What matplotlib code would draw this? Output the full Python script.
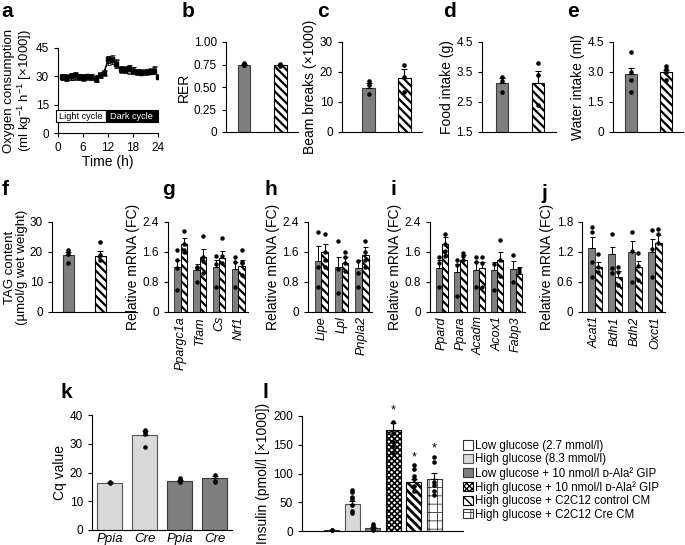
import numpy as np
import matplotlib
matplotlib.use('Agg')
import matplotlib.pyplot as plt
from matplotlib.patches import Patch, Rectangle

plt.rcParams['font.family'] = ['Liberation Sans', 'DejaVu Sans']
plt.rcParams['mathtext.fontset'] = 'custom'
plt.rcParams['mathtext.rm'] = 'Liberation Sans'
plt.rcParams['mathtext.it'] = 'Liberation Sans:italic'
plt.rcParams['axes.linewidth'] = 0.8
plt.rcParams['xtick.major.width'] = 0.8
plt.rcParams['ytick.major.width'] = 0.8
plt.rcParams['xtick.major.size'] = 3
plt.rcParams['ytick.major.size'] = 3
plt.rcParams['xtick.labelsize'] = 8.5
plt.rcParams['ytick.labelsize'] = 8.5
plt.rcParams['axes.labelsize'] = 10
plt.rcParams['axes.labelpad'] = 2
plt.rcParams['hatch.linewidth'] = 1.6

# ---------------- data ----------------
# a: oxygen consumption over 24 h
time_h = [1, 2, 3, 4, 5, 6, 7, 8, 9, 10, 11, 12, 13, 14, 15, 16, 17, 18, 19, 20, 21, 22, 23, 24]
o2_ctrl = [29.5, 29.0, 30.0, 30.5, 29.5, 29.5, 30.0, 29.5, 28.5, 30.5, 32.0, 39.0, 38.5, 36.5,
           34.0, 33.5, 34.5, 33.0, 32.5, 32.0, 32.5, 32.5, 33.0, 29.5]
o2_ctrl_err = [1.5, 1.5, 2.0, 2.0, 1.5, 1.5, 1.5, 1.5, 1.5, 1.5, 1.5, 2.0, 2.0, 2.0,
               1.5, 1.5, 1.5, 2.0, 1.5, 1.5, 1.5, 1.5, 2.0, 1.0]
o2_cre = [30.0, 29.5, 29.5, 30.0, 30.0, 29.0, 29.5, 30.0, 29.0, 31.0, 31.5, 38.0, 39.5, 37.0,
          33.5, 34.0, 33.0, 33.5, 32.0, 32.5, 32.0, 33.0, 33.5, 30.0]
o2_cre_err = [1.5, 1.5, 1.5, 2.0, 1.5, 1.5, 1.5, 1.5, 1.5, 1.5, 1.5, 2.0, 2.0, 2.0,
              1.5, 1.5, 1.5, 1.5, 1.5, 1.5, 1.5, 1.5, 2.0, 1.0]

# b-f: two-group bars (control, knockout)
rer_mean = [0.75, 0.74]
rer_err = [0.01, 0.01]
rer_dots = [[0.77, 0.76, 0.75, 0.74], [0.76, 0.75, 0.74, 0.73]]

beam_mean = [14.8, 18.0]
beam_err = [1.5, 3.0]
beam_dots = [[17.0, 15.8, 12.8], [22.5, 18.5, 13.2]]

food_mean = [3.15, 3.15]
food_err = [0.15, 0.4]
food_dots = [[3.35, 3.2, 2.85], [3.8, 3.4, 2.4]]

water_mean = [2.9, 3.0]
water_err = [0.3, 0.1]
water_dots = [[4.0, 3.0, 2.6, 2.0], [3.3, 3.15, 3.0, 2.6]]

tag_mean = [19.0, 18.8]
tag_err = [1.0, 1.5]
tag_dots = [[20.5, 19.5, 16.5], [23.5, 19.0, 17.5]]

# g-j: relative mRNA, pairs (control, knockout)
g_genes = ['Ppargc1a', 'Tfam', 'Cs', 'Nrf1']
g_ctrl = [1.2, 1.13, 1.2, 1.16]
g_ctrl_err = [0.2, 0.16, 0.2, 0.17]
g_ko = [1.8, 1.48, 1.45, 1.24]
g_ko_err = [0.16, 0.21, 0.17, 0.14]
g_ctrl_dots = [[1.66, 1.4, 1.17, 0.6], [1.2, 1.18, 0.8], [1.5, 1.29, 0.67], [1.48, 1.33, 0.68]]
g_ko_dots = [[2.16, 1.8, 1.64, 1.6], [2.02, 1.47, 1.35, 1.05], [1.98, 1.5, 1.3], [1.64, 1.33, 1.3, 1.0]]

h_genes = ['Lipe', 'Lpl', 'Pnpla2']
h_ctrl = [1.35, 1.2, 1.17]
h_ctrl_err = [0.41, 0.26, 0.22]
h_ko = [1.6, 1.32, 1.52]
h_ko_err = [0.2, 0.14, 0.22]
h_ctrl_dots = [[2.12, 1.21, 0.68], [1.88, 1.14, 0.5], [1.35, 1.04, 0.68]]
h_ko_dots = [[2.08, 1.6, 1.39, 1.21], [1.61, 1.46, 1.3, 1.1], [1.9, 1.61, 1.4, 1.2]]

i_genes = ['Ppard', 'Ppara', 'Acadm', 'Acox1', 'Fabp3']
i_ctrl = [1.17, 1.08, 1.13, 1.13, 1.16]
i_ctrl_err = [0.21, 0.21, 0.2, 0.2, 0.2]
i_ko = [1.82, 1.38, 1.17, 1.4, 1.02]
i_ko_err = [0.18, 0.13, 0.16, 0.2, 0.18]
i_ctrl_dots = [[1.47, 1.31, 0.68], [1.38, 1.25, 0.44], [1.47, 1.33, 0.67], [1.29, 0.58], [1.51, 0.8]]
i_ko_dots = [[2.09, 1.82, 1.63, 1.5], [1.56, 1.49, 1.38], [1.47, 1.3, 0.67], [1.91, 1.38, 0.95], [1.16, 1.08]]

j_genes = ['Acat1', 'Bdh1', 'Bdh2', 'Oxct1']
j_ctrl = [1.28, 1.15, 1.2, 1.2]
j_ctrl_err = [0.22, 0.16, 0.21, 0.26]
j_ko = [0.9, 0.71, 0.9, 1.38]
j_ko_err = [0.11, 0.12, 0.13, 0.15]
j_ctrl_dots = [[1.7, 1.6, 1.01, 0.71], [1.55, 0.88, 0.78], [1.6, 1.21, 0.61], [1.63, 1.25, 0.71]]
j_ko_dots = [[1.15, 0.9, 0.8], [0.9, 0.8, 0.55], [1.18, 0.92, 0.65], [1.65, 1.55, 1.38]]

# k: Cq values
k_labels = ['Ppia', 'Cre', 'Ppia', 'Cre']
k_mean = [16.5, 33.0, 17.2, 18.1]
k_err = [0.2, 1.3, 0.3, 0.8]
k_dots = [[16.6, 16.3], [34.7, 34.0, 33.5, 29.0], [18.0, 17.5, 17.0, 16.7], [19.2, 17.0, 16.8]]

# l: insulin secretion
l_labels = ['Low glucose (2.7 mmol/l)', 'High glucose (8.3 mmol/l)',
            'Low glucose + 10 nmol/l ᴅ-Ala² GIP', 'High glucose + 10 nmol/l ᴅ-Ala² GIP',
            'High glucose + C2C12 control CM', 'High glucose + C2C12 Cre CM']
l_mean = [2.0, 47.0, 5.0, 176.0, 86.0, 90.0]
l_err = [0.5, 5.0, 2.0, 12.0, 5.0, 11.0]
l_dots = [[2.0, 1.5], [72, 67, 60, 55, 45, 35, 32], [12, 8, 4, 2],
          [190, 170, 155, 148, 135], [115, 108, 95, 90, 78, 70], [128, 120, 85, 80, 70, 63]]
l_stars = ['', '', '', '*', '*', '*']
l_star_y = [0, 0, 0, 200, 118, 134]

# ---------------- style ----------------
DARK = '#7f7f7f'
DARK_EDGE = '#3a3a3a'
LIGHT = '#d9d9d9'

W, H = 685, 545
fig = plt.figure(figsize=(W / 100, H / 100), dpi=100)


def add_ax(l, t, r, b):
    ax = fig.add_axes([l / W, 1 - b / H, (r - l) / W, (b - t) / H])
    ax.spines['top'].set_visible(False)
    ax.spines['right'].set_visible(False)
    return ax


def set_hlw(patches, lw):
    for p in patches:
        if hasattr(p, 'set_hatch_linewidth'):
            p.set_hatch_linewidth(lw)


def panel_letter(x, y, s):
    fig.text(x / W, 1 - y / H, s, fontsize=15, fontweight='bold', va='top', ha='left')


def dots(ax, x, vals, ms=3.3):
    ax.plot([x] * len(vals), vals, 'o', color='black', ms=ms, mew=0, zorder=5, clip_on=False)


def two_bar(ax, means, errs, dlist, xlim, ylim, yticks, yticklabels, ylabel):
    w = 0.35
    ax.bar([0], [means[0]], w, color=DARK, edgecolor=DARK_EDGE, linewidth=0.8, zorder=2)
    b2 = ax.bar([1], [means[1]], w, color='white', edgecolor='black', linewidth=0.8,
                hatch='\\\\\\\\', zorder=2)
    set_hlw(b2, 1.6)
    for i in range(2):
        ax.errorbar([i], [means[i]], yerr=[[0], [errs[i]]], fmt='none', ecolor='black',
                    elinewidth=0.8, capsize=2.2, capthick=0.8, zorder=3)
        dots(ax, i, dlist[i])
    ax.set_xlim(*xlim)
    ax.set_ylim(*ylim)
    ax.set_yticks(yticks)
    ax.set_yticklabels(yticklabels)
    ax.set_xticks([])
    ax.set_ylabel(ylabel)


def gene_bars(ax, genes, c, ce, k, ke, cd, kd, ylim, yticks, yticklabels):
    w = 0.33
    n = len(genes)
    x = np.arange(n)
    ax.bar(x - w / 2, c, w, color=DARK, edgecolor=DARK_EDGE, linewidth=0.7, zorder=2)
    b2 = ax.bar(x + w / 2, k, w, color='white', edgecolor='black', linewidth=0.7,
                hatch='\\\\\\\\', zorder=2)
    set_hlw(b2, 1.6)
    for i in range(n):
        ax.errorbar([x[i] - w / 2], [c[i]], yerr=[[0], [ce[i]]], fmt='none', ecolor='black',
                    elinewidth=0.7, capsize=1.8, capthick=0.7, zorder=3)
        ax.errorbar([x[i] + w / 2], [k[i]], yerr=[[0], [ke[i]]], fmt='none', ecolor='black',
                    elinewidth=0.7, capsize=1.8, capthick=0.7, zorder=3)
        dots(ax, x[i] - w / 2, cd[i], ms=3.2)
        dots(ax, x[i] + w / 2, kd[i], ms=3.2)
    ax.set_xlim(-0.65, n - 0.5)
    ax.set_ylim(*ylim)
    ax.set_yticks(yticks)
    ax.set_yticklabels(yticklabels)
    ax.set_xticks(x)
    ax.set_xticklabels(genes, rotation=90, fontstyle='italic', fontsize=9)
    ax.tick_params(axis='x', length=0, pad=3)
    ax.set_ylabel('Relative mRNA (FC)')


# ---------------- a ----------------
axa = add_ax(58, 48, 158, 133)
axa.errorbar(time_h, o2_cre, yerr=o2_cre_err, color='black', marker='s', ms=3.2, mfc='#9a9a9a',
             mec='#333333', mew=0.5, lw=0.8, elinewidth=0.6, capsize=1.8, capthick=0.6, zorder=3)
axa.errorbar(time_h, o2_ctrl, yerr=o2_ctrl_err, color='black', marker='s', ms=3.2, mfc='black',
             mec='black', lw=0.8, elinewidth=0.6, capsize=1.8, capthick=0.6, zorder=4)
axa.set_xlim(0, 24)
axa.set_ylim(0, 45)
axa.set_xticks([0, 6, 12, 18, 24])
axa.set_yticks([0, 15, 30, 45])
axa.set_xlabel('Time (h)', labelpad=1)
axa.set_ylabel('Oxygen consumption\n(ml kg$^{-1}$ h$^{-1}$ [×1000])', linespacing=1.05,
               fontsize=9.5, labelpad=1)
axa.add_patch(Rectangle((-0.4, 5.6), 11.8, 6.6, facecolor='white', edgecolor='black',
                        linewidth=0.8, clip_on=False, zorder=5))
axa.add_patch(Rectangle((11.4, 5.6), 12.6, 6.6, facecolor='black', edgecolor='black',
                        linewidth=0.8, clip_on=False, zorder=5))
axa.text(5.5, 8.9, 'Light cycle', ha='center', va='center', fontsize=6.6, zorder=6)
axa.text(17.7, 8.9, 'Dark cycle', ha='center', va='center', fontsize=6.6, color='white', zorder=6)
panel_letter(1, 2, 'a')

# ---------------- b-f ----------------
axb = add_ax(226, 42, 298, 132)
two_bar(axb, rer_mean, rer_err, rer_dots, (-0.49, 1.48), (0, 1.0), [0, 0.25, 0.5, 0.75, 1.0],
        ['0', '0.25', '0.50', '0.75', '1.00'], 'RER')
panel_letter(182, 2, 'b')

axc = add_ax(342, 42, 422, 132)
two_bar(axc, beam_mean, beam_err, beam_dots, (-0.74, 1.49), (0, 30), [0, 10, 20, 30],
        ['0', '10', '20', '30'], 'Beam breaks (×1000)')
panel_letter(317, 2, 'c')

axd = add_ax(482, 42, 556, 132)
two_bar(axd, food_mean, food_err, food_dots, (-0.56, 1.5), (1.5, 4.5), [1.5, 2.5, 3.5, 4.5],
        ['1.5', '2.5', '3.5', '4.5'], 'Food intake (g)')
panel_letter(443, 2, 'd')

axe = add_ax(613, 42, 683, 132)
two_bar(axe, water_mean, water_err, water_dots, (-0.51, 1.49), (0, 4.5), [0, 1.5, 3.0, 4.5],
        ['0', '1.5', '3.0', '4.5'], 'Water intake (ml)')
panel_letter(567, 2, 'e')

axf = add_ax(52, 222, 137, 312)
two_bar(axf, tag_mean, tag_err, tag_dots, (-0.52, 2.17), (0, 30), [0, 10, 20, 30],
        ['0', '10', '20', '30'], 'TAG content\n(µmol/g wet weight)')
axf.yaxis.label.set_linespacing(1.05)
axf.yaxis.label.set_fontsize(9.5)
axf.yaxis.labelpad = 1
panel_letter(2, 180, 'f')

# ---------------- g-j ----------------
mr_ticks = [0, 0.8, 1.6, 2.4]
mr_labels = ['0', '0.8', '1.6', '2.4']
axg = add_ax(168, 222, 248, 312)
gene_bars(axg, g_genes, g_ctrl, g_ctrl_err, g_ko, g_ko_err, g_ctrl_dots, g_ko_dots,
          (0, 2.4), mr_ticks, mr_labels)
panel_letter(162, 180, 'g')

axh = add_ax(308, 222, 372, 312)
gene_bars(axh, h_genes, h_ctrl, h_ctrl_err, h_ko, h_ko_err, h_ctrl_dots, h_ko_dots,
          (0, 2.4), mr_ticks, mr_labels)
panel_letter(264, 180, 'h')

axi = add_ax(430, 222, 525, 312)
gene_bars(axi, i_genes, i_ctrl, i_ctrl_err, i_ko, i_ko_err, i_ctrl_dots, i_ko_dots,
          (0, 2.4), mr_ticks, mr_labels)
panel_letter(390, 180, 'i')

axj = add_ax(582, 222, 665, 312)
gene_bars(axj, j_genes, j_ctrl, j_ctrl_err, j_ko, j_ko_err, j_ctrl_dots, j_ko_dots,
          (0, 1.8), [0, 0.6, 1.2, 1.8], ['0', '0.6', '1.2', '1.8'])
panel_letter(541, 184, 'j')

# ---------------- k ----------------
axk = add_ax(92, 415, 232, 530)
k_colors = [LIGHT, LIGHT, DARK, DARK]
k_edges = ['#555555', '#555555', DARK_EDGE, DARK_EDGE]
xk = np.arange(len(k_labels))
axk.bar(xk, k_mean, 0.74, color=k_colors, edgecolor=k_edges, linewidth=0.8, zorder=2)
for i in range(len(k_labels)):
    axk.errorbar([xk[i]], [k_mean[i]], yerr=[[0], [k_err[i]]], fmt='none', ecolor='black',
                 elinewidth=0.8, capsize=2.2, capthick=0.8, zorder=3)
    dots(axk, xk[i], k_dots[i])
axk.set_xlim(-0.5, 3.5)
axk.set_ylim(0, 40)
axk.set_yticks([0, 10, 20, 30, 40])
axk.set_xticks(xk)
axk.set_xticklabels(k_labels, fontstyle='italic', fontsize=9.5)
axk.tick_params(axis='x', length=0, pad=2)
axk.set_ylabel('Cq value')
panel_letter(61, 383, 'k')

# ---------------- l ----------------
axl = add_ax(302, 416, 463, 531)
l_face = ['white', LIGHT, DARK, 'white', 'white', 'white']
l_edge = ['#333333', '#555555', DARK_EDGE, 'black', 'black', '#333333']
l_hatch = [None, None, None, 'xxxxxx', '\\\\\\\\', '++']
l_hlw = [1.0, 1.0, 1.0, 1.2, 2.0, 0.6]
xl = np.arange(len(l_mean))
for i in range(len(l_mean)):
    bb = axl.bar([xl[i]], [l_mean[i]], 0.73, color=l_face[i], edgecolor=l_edge[i],
                 linewidth=0.8, hatch=l_hatch[i], zorder=2)
    set_hlw(bb, l_hlw[i])
    axl.errorbar([xl[i]], [l_mean[i]], yerr=[[0], [l_err[i]]], fmt='none', ecolor='black',
                 elinewidth=0.8, capsize=2.2, capthick=0.8, zorder=3)
    dots(axl, xl[i], l_dots[i])
    if l_stars[i]:
        axl.text(xl[i], l_star_y[i], l_stars[i], ha='center', va='bottom', fontsize=9)
axl.set_xlim(-1.46, 6.4)
axl.set_ylim(0, 200)
axl.set_yticks([0, 50, 100, 150, 200])
axl.set_xticks([])
axl.set_ylabel('Insulin (pmol/l [×1000])')
panel_letter(262, 383, 'l')

handles = []
for i in range(len(l_labels)):
    hp = Patch(facecolor=l_face[i], edgecolor=l_edge[i], hatch=l_hatch[i], linewidth=0.8)
    handles.append(hp)
leg = fig.legend(handles, l_labels, loc='upper left', bbox_to_anchor=(463 / W, 1 - 440 / H),
                 frameon=False, fontsize=8.3, handlelength=0.85, handleheight=0.85,
                 handletextpad=0.2, labelspacing=0.12, borderaxespad=0, borderpad=0)
for p, lw in zip(leg.get_patches(), l_hlw):
    if hasattr(p, 'set_hatch_linewidth'):
        p.set_hatch_linewidth(min(lw, 1.0))

fig.savefig('out.png', dpi=100)
